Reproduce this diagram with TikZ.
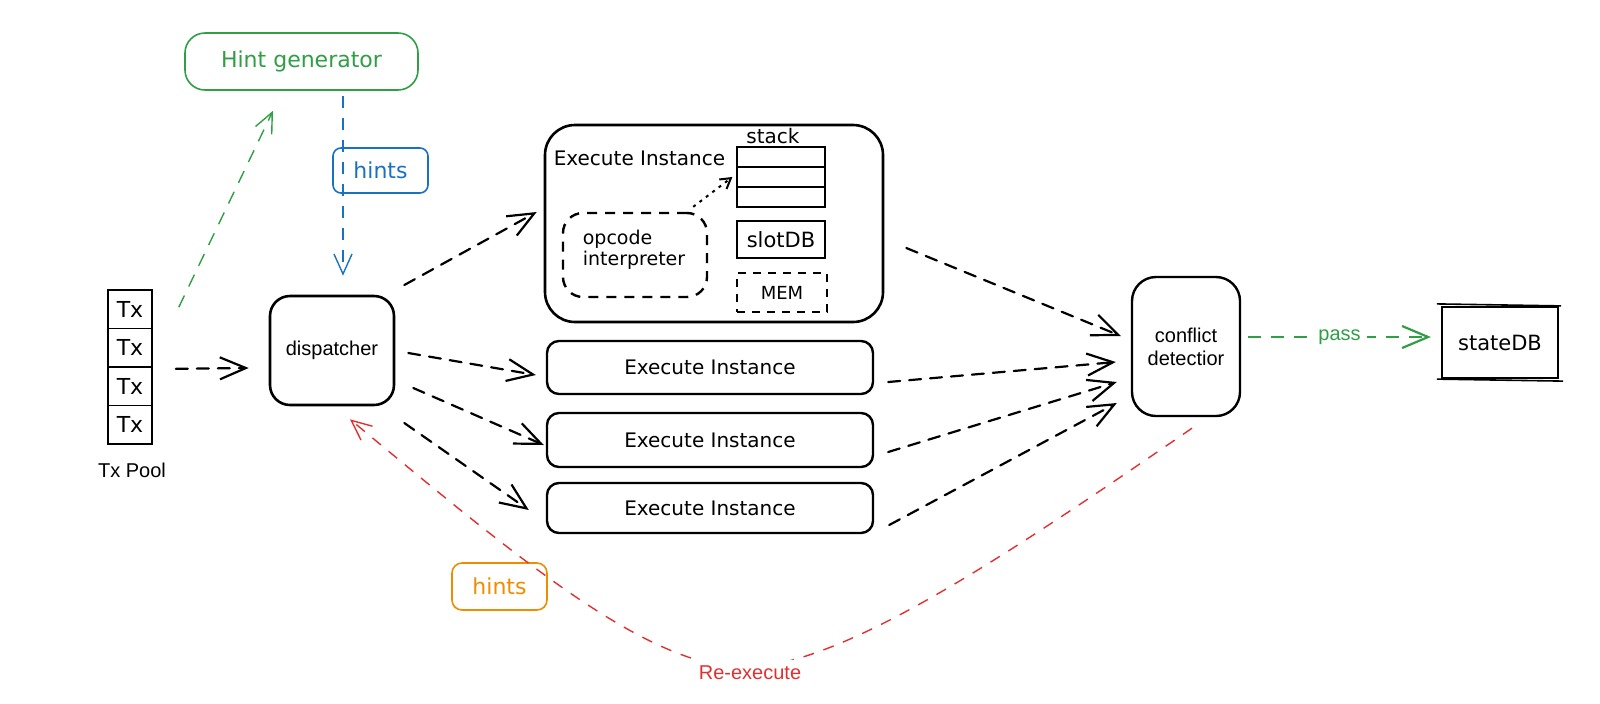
\documentclass[tikz,border=0pt]{standalone}
\usepackage{fontspec}
\setmainfont{Liberation Sans}
\newfontfamily\hand{DejaVu Sans}
\usetikzlibrary{arrows.meta,calc}
\definecolor{exgreen}{HTML}{2F9E44}
\definecolor{exblue}{HTML}{1971C2}
\definecolor{exorange}{HTML}{F08C00}
\definecolor{exred}{HTML}{E03131}
\begin{document}
\begin{tikzpicture}[x=0.5pt,y=-0.5pt,
  box/.style={draw, line width=1.2pt, inner sep=0pt, rounded corners=#1},
  box/.default=8pt,
  hf/.style={font=\hand\fontsize{#1}{#1}\selectfont},
  hf/.default=10,
  sf/.style={font=\fontsize{10}{11.5}\selectfont},
  barb/.tip={Straight Barb[length=13pt,width=11pt]},
  sbarb/.tip={Straight Barb[length=10pt,width=9pt]},
  blk/.style={line width=1.1pt, line cap=round, dash pattern=on 6pt off 4.5pt, -barb},
  grn/.style={draw=exgreen, line width=0.7pt, dash pattern=on 6.5pt off 5pt, -sbarb},
  blu/.style={draw=exblue, line width=0.7pt, dash pattern=on 6pt off 5pt, -sbarb},
  rd/.style={draw=exred, line width=0.7pt, dash pattern=on 5.5pt off 5pt, -sbarb},
  passar/.style={draw=exgreen, line width=1.1pt, dash pattern=on 6.5pt off 5pt, -barb},
  txbox/.style={draw, line width=0.8pt, inner sep=0pt, minimum width=22pt, minimum height=19.25pt, hf=11},
  cell/.style={draw, line width=0.6pt, inner sep=0pt, minimum width=44pt, minimum height=10pt},
]
\useasboundingbox (0,0) rectangle (1600,703);

% Hint generator and hints labels
\node[box=10pt, draw=exgreen, line width=0.8pt, minimum width=116.5pt, minimum height=28.5pt,
      text=exgreen, hf=11] (hint) at (301.5,61.5) {Hint generator};
\node[box=4pt, draw=exblue, line width=0.8pt, minimum width=47.5pt, minimum height=22.5pt,
      text=exblue, hf=11] (bh) at (380.5,170.5) {hints};
\node[box=5pt, draw=exorange, line width=0.8pt, minimum width=47.5pt, minimum height=23.5pt,
      text=exorange, hf=11] (oh) at (499.5,586.5) {hints};

% Tx pool
\node[txbox] (t1) at (130,309.25) {Tx};
\node[txbox] (t2) at (130,347.75) {Tx};
\node[txbox] (t3) at (130,386.25) {Tx};
\node[txbox] (t4) at (130,424.75) {Tx};
\node[sf] (pool) at (132,470) {Tx Pool};

% dispatcher
\node[box=10pt, line width=1.3pt, minimum width=62pt, minimum height=54.5pt, sf] (disp) at (332,350.5) {dispatcher};

% big execute instance
\node[box=15pt, line width=1.3pt, minimum width=169pt, minimum height=98.5pt] (ex1) at (714,223.5) {};
\node[hf=10, inner sep=0pt] (ex1lab) at (639.5,158) {Execute Instance};
\node[hf=10, inner sep=0pt] (stacklab) at (773,136) {stack};
\node[cell] (s1) at (781,157) {};
\node[cell] (s2) at (781,177) {};
\node[cell] (s3) at (781,197) {};
\node[box=10pt, dash pattern=on 5pt off 4pt, minimum width=72pt, minimum height=42pt] (op) at (635,255) {};
\node[hf=9.5, align=left, inner sep=0pt] (optext) at (634,250) {opcode\\[1pt]interpreter};
\node[draw, line width=0.8pt, inner sep=0pt, minimum width=44pt, minimum height=18.5pt, hf=10.5] (slot) at (781,239.5) {slotDB};
\node[draw, line width=0.8pt, dash pattern=on 4pt off 3.5pt, inner sep=0pt, minimum width=45pt, minimum height=19.5pt, hf=9] (mem) at (782,292.5) {MEM};
\draw[line width=1pt, dash pattern=on 1.5pt off 2.5pt, -{Straight Barb[length=5pt,width=6pt]}]
  ($(op.north east)+(-15,-5)$) -- ($(s2.west)+(-4,0)$);

% other execute instances
\node[box=6pt, line width=1.2pt, minimum width=163pt, minimum height=26.5pt, hf=10] (ex2) at (710,367.5) {Execute Instance};
\node[box=6pt, line width=1.2pt, minimum width=163pt, minimum height=27pt, hf=10] (ex3) at (710,440) {Execute Instance};
\node[box=6pt, line width=1.2pt, minimum width=163pt, minimum height=25pt, hf=10] (ex4) at (710,508) {Execute Instance};

% conflict detection
\node[box=12pt, line width=1.2pt, minimum width=54pt, minimum height=69.5pt, align=center,
      font=\fontsize{10}{11.5}\selectfont] (cd) at (1186,346.5) {conflict\\detectior};

% stateDB
\node[draw, line width=1.1pt, inner sep=0pt, minimum width=58pt, minimum height=35.5pt, hf=10.5] (db) at (1500,342.5) {stateDB};
\draw[line width=0.8pt] ($(db.north west)+(-4,-2)$) -- ($(db.north east)+(2,0)$);
\draw[line width=0.8pt] ($(db.south west)+(-4,0)$) -- ($(db.south east)+(4,2)$);

% connectors
\draw[blk] ($(t2.south east)+(23,1)$) -- ($(disp.west)+(-20,17.5)$);
\draw[grn] ($(t1.north east)+(26,18)$) -- ($(hint.south)+(-28.5,20)$);
\draw[blu] ($(hint.south)+(41.5,5)$) -- ($(disp.north)+(11,-19)$);

\draw[blk] ($(disp.east)+(9,-65.5)$) -- ($(ex1.west)+(-7,-11.5)$);
\draw[blk] ($(disp.east)+(13,2.5)$) -- ($(ex2.west)+(-10,7.5)$);
\draw[blk] ($(disp.east)+(18,37.5)$) -- ($(ex3.west)+(-2,5)$);
\draw[blk] ($(disp.east)+(9,72.5)$) -- ($(ex4.west)+(-17,2)$);

\draw[blk] ($(ex1.east)+(22,24.5)$) -- ($(cd.west)+(-10,-10.5)$);
\draw[blk] ($(ex2.east)+(14,14.5)$) -- ($(cd.west)+(-15,15.5)$);
\draw[blk] ($(ex3.east)+(14,12)$) -- ($(cd.west)+(-14,35.5)$);
\draw[blk] ($(ex4.east)+(15,17)$) -- ($(cd.west)+(-14,56.5)$);

\draw[passar] ($(cd.east)+(7,-9.5)$) -- node[fill=white, text=exgreen, inner sep=3pt, font=\fontsize{10}{11.5}\selectfont] (passlab) {pass} ($(db.west)+(-10,-5.5)$);

\draw[rd] ($(cd.south)+(6,11)$) .. controls (1000,560) and (850,660) .. (750,668)
  node[fill=white, text=exred, inner sep=3pt, yshift=-2.5pt, font=\fontsize{10}{11.5}\selectfont] (relab) {Re-execute}
  .. controls (650,670) and (520,560) .. ($(disp.south)+(18,13)$);
\end{tikzpicture}
\end{document}
